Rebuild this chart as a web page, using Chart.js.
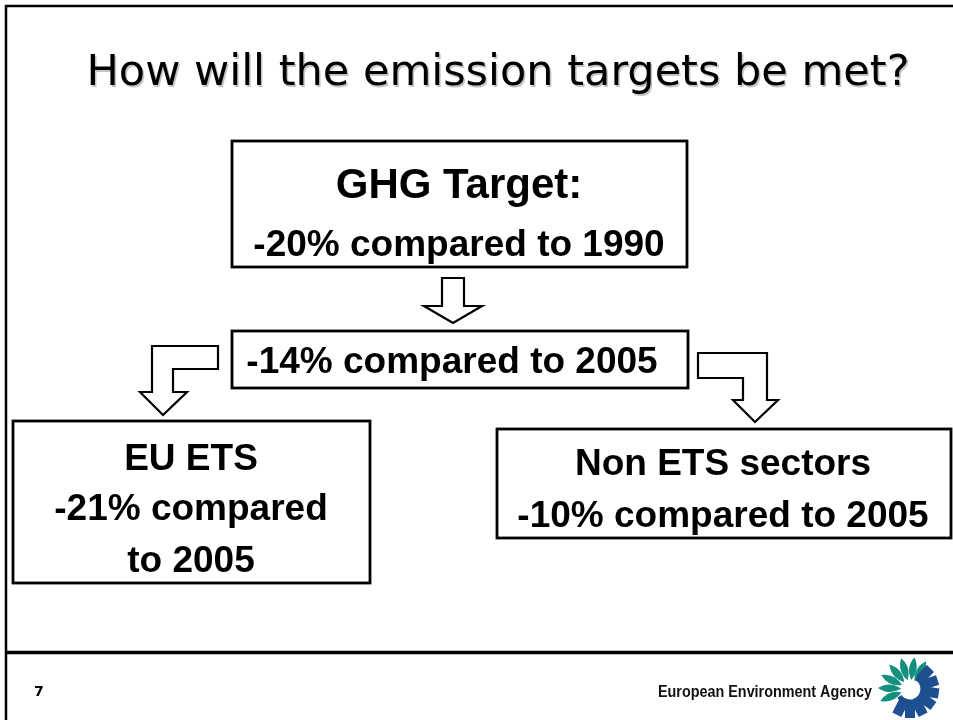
<!DOCTYPE html>
<html>
<head>
<meta charset="utf-8">
<title>How will the emission targets be met?</title>
<script src="https://cdn.jsdelivr.net/npm/chart.js@4.4.1/dist/chart.umd.min.js"></script>
<style>
  html, body { margin: 0; padding: 0; background: #fff; }
  #wrap { width: 953px; height: 720px; }
</style>
</head>
<body>
<div id="wrap"><canvas id="slide" width="953" height="720"></canvas></div>
<script>
// Slide content
const slideTitle = "How will the emission targets be met?";
const boxTitles = ["GHG Target:", null, "EU ETS", "Non ETS sectors"];
const reductions = [-20, -14, -21, -10];
const baseYears = [1990, 2005, 2005, 2005];
const pageNumber = "7";
const agencyName = "European Environment Agency";

// Where things sit on the slide (slide units = the hidden axes' units)
const boxLayout = [
    { x0: 232, y0: 141, x1: 687, y1: 267, textX: 459, baselines: [198, 256], sizes: [42, 37], split: false },
    { x0: 232, y0: 331, x1: 688, y1: 388, textX: 452, baselines: [373], sizes: [37], split: false },
    { x0: 13, y0: 421, x1: 370, y1: 583, textX: 191, baselines: [470, 520, 572], sizes: [37, 37, 37], split: true },
    { x0: 497, y0: 429, x1: 951, y1: 538, textX: 723, baselines: [475, 527], sizes: [37, 37], split: false },
];

// block arrows as outlines
const arrowShapes = [
    [[442, 278], [464, 278], [464, 306], [482, 306], [453, 323], [424, 306], [442, 306]],
    [[218, 346], [152, 346], [152, 392], [140, 392], [163, 415], [187, 392], [173, 392], [173, 369], [218, 369]],
    [[698, 353], [767, 353], [767, 400], [778, 400], [755, 422], [733, 400], [743, 400], [743, 378], [698, 378]],
];

const boxLines = (i) => {
    const target = `${reductions[i]}% compared to ${baseYears[i]}`;
    const lines = boxTitles[i] ? [boxTitles[i]] : [];
    if (boxLayout[i].split) {
        const cut = target.indexOf(" to ");
        lines.push(target.substring(0, cut), target.substring(cut + 1));
    } else {
        lines.push(target);
    }
    return lines;
};

const slidePlugin = {
    id: "slide",
    beforeDraw(chart) {
        const ctx = chart.ctx;
        ctx.save();
        ctx.fillStyle = "#ffffff";
        ctx.fillRect(0, 0, chart.width, chart.height);
        ctx.restore();
    },
    afterDraw(chart) {
        const ctx = chart.ctx;
        const X = (v) => chart.scales.x.getPixelForValue(v);
        const Y = (v) => chart.scales.y.getPixelForValue(v);
        ctx.save();

        // frame + footer rule
        ctx.strokeStyle = "#000";
        ctx.lineWidth = 2.5;
        ctx.beginPath();
        ctx.moveTo(X(6), Y(720));
        ctx.lineTo(X(6), Y(6));
        ctx.lineTo(X(953), Y(6));
        ctx.stroke();
        ctx.lineWidth = 3.5;
        ctx.beginPath();
        ctx.moveTo(X(6), Y(652.5));
        ctx.lineTo(X(953), Y(652.5));
        ctx.stroke();

        // title with soft shadow
        ctx.textAlign = "center";
        ctx.textBaseline = "alphabetic";
        ctx.font = '43px "DejaVu Sans", Verdana, sans-serif';
        ctx.fillStyle = "#c4c4c4";
        ctx.fillText(slideTitle, X(499.5), Y(86.5));
        ctx.fillStyle = "#000";
        ctx.fillText(slideTitle, X(498), Y(85));

        // boxes
        boxLayout.forEach((b, i) => {
            ctx.lineWidth = 2.8;
            ctx.strokeStyle = "#000";
            ctx.fillStyle = "#fff";
            ctx.fillRect(X(b.x0), Y(b.y0), X(b.x1) - X(b.x0), Y(b.y1) - Y(b.y0));
            ctx.strokeRect(X(b.x0), Y(b.y0), X(b.x1) - X(b.x0), Y(b.y1) - Y(b.y0));
            ctx.fillStyle = "#000";
            boxLines(i).forEach((line, k) => {
                ctx.font = `bold ${b.sizes[k]}px "Liberation Sans", Arial, sans-serif`;
                ctx.fillText(line, X(b.textX), Y(b.baselines[k]));
            });
        });

        // arrows
        ctx.lineWidth = 2.2;
        ctx.lineJoin = "miter";
        arrowShapes.forEach((pts) => {
            ctx.beginPath();
            pts.forEach(([px, py], k) => {
                if (k === 0) ctx.moveTo(X(px), Y(py));
                else ctx.lineTo(X(px), Y(py));
            });
            ctx.closePath();
            ctx.fillStyle = "#fff";
            ctx.fill();
            ctx.stroke();
        });

        // footer
        ctx.fillStyle = "#000";
        ctx.textAlign = "left";
        ctx.font = 'bold 14px "DejaVu Sans", Verdana, sans-serif';
        ctx.fillText(pageNumber, X(34), Y(696));
        ctx.font = 'bold 16px "Liberation Sans Narrow", "Liberation Sans", Arial, sans-serif';
        ctx.fillStyle = "#111";
        ctx.fillText(agencyName, X(658), Y(697), X(872) - X(658));

        // agency logo: teal petals on the upper left, blue cog on the lower right
        const lx = X(910), ly = Y(689);
        const petal = (angDeg, r0, r1, w, color) => {
            const a = (angDeg * Math.PI) / 180;
            const ux = Math.cos(a), uy = Math.sin(a);
            const nx = -uy, ny = ux;
            const ix = lx + ux * r0, iy = ly + uy * r0;
            const ox = lx + ux * r1, oy = ly + uy * r1;
            const mx = lx + ux * (r0 + r1) / 2, my = ly + uy * (r0 + r1) / 2;
            ctx.beginPath();
            ctx.moveTo(ix, iy);
            ctx.quadraticCurveTo(mx + nx * w, my + ny * w, ox, oy);
            ctx.quadraticCurveTo(mx - nx * w, my - ny * w, ix, iy);
            ctx.closePath();
            ctx.fillStyle = color;
            ctx.fill();
        };
        [158, 182, 206, 230, 254, 278, 300].forEach((a) => petal(a, 9, 32, 7.5, "#16907e"));
        ctx.strokeStyle = "#1d4f91";
        ctx.lineWidth = 5;
        ctx.beginPath();
        ctx.arc(lx, ly, 13, (-60 * Math.PI) / 180, (145 * Math.PI) / 180);
        ctx.stroke();
        [-45, -18, 9, 36, 63, 90, 117].forEach((a) => {
            const r = (a * Math.PI) / 180;
            ctx.save();
            ctx.translate(lx + Math.cos(r) * 21, ly + Math.sin(r) * 21);
            ctx.rotate(r);
            ctx.fillStyle = "#1d4f91";
            ctx.fillRect(-7, -5, 15, 10);
            ctx.restore();
        });

        ctx.restore();
    },
};

new Chart(document.getElementById("slide"), {
    type: "scatter",
    data: {
        datasets: [
            {
                data: boxLayout.map((b) => ({ x: (b.x0 + b.x1) / 2, y: (b.y0 + b.y1) / 2 })),
                pointRadius: 0,
                showLine: false,
            },
        ],
    },
    options: {
        responsive: false,
        animation: false,
        events: [],
        layout: { padding: 0 },
        scales: {
            x: { type: "linear", min: 0, max: 953, display: false },
            y: { type: "linear", min: 0, max: 720, reverse: true, display: false },
        },
        plugins: {
            legend: { display: false },
            tooltip: { enabled: false },
            title: { display: false },
        },
    },
    plugins: [slidePlugin],
});
</script>
</body>
</html>
